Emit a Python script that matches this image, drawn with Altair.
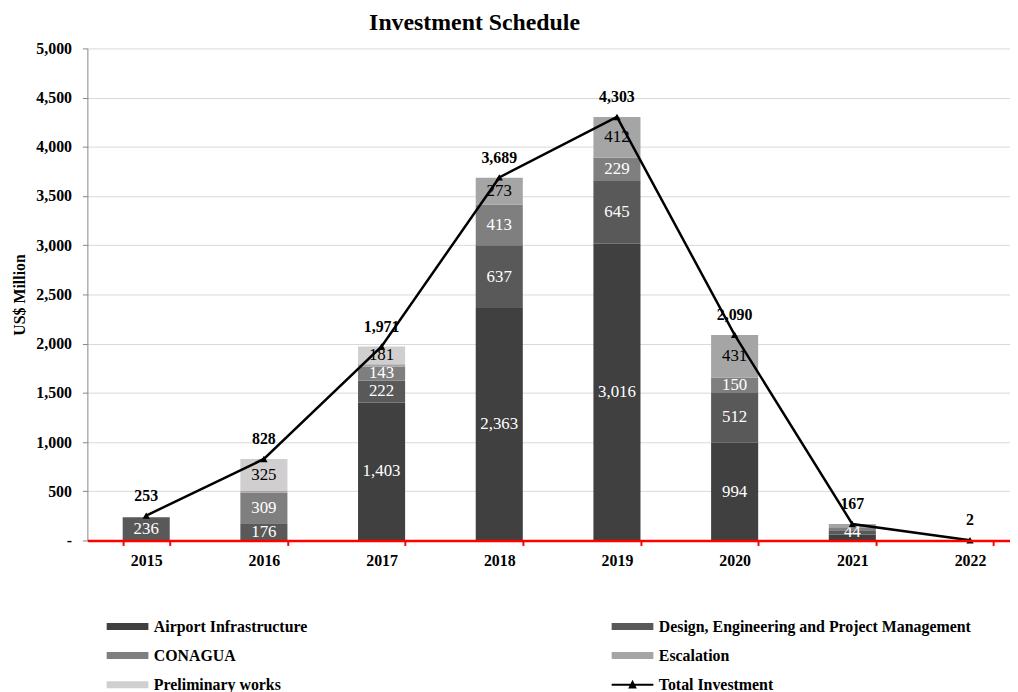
import altair as alt
import pandas as pd

FONT = "Liberation Serif"

years = ["2015", "2016", "2017", "2018", "2019", "2020", "2021", "2022"]
series_names = [
    "Airport Infrastructure",
    "Design, Engineering and Project Management",
    "CONAGUA",
    "Escalation",
    "Preliminary works",
]
airport = [0, 0, 1403, 2363, 3016, 994, 60, 0]
design = [236, 176, 222, 637, 645, 512, 44, 0]
conagua = [0, 309, 143, 413, 229, 150, 30, 0]
escalation = [0, 18, 22, 273, 412, 431, 33, 2]
preliminary = [0, 325, 181, 0, 0, 0, 0, 0]
total = [253, 828, 1971, 3689, 4303, 2090, 167, 2]
total_name = "Total Investment"

# small segments that still carry a value label in the reference
small_labelled = [("2021", "Design, Engineering and Project Management")]

series_colors = ["#404040", "#595959", "#7f7f7f", "#a5a5a5", "#d0cece"]

series_values = [airport, design, conagua, escalation, preliminary]
rows = []
for order, (name, vals) in enumerate(zip(series_names, series_values)):
    for yr, v in zip(years, vals):
        show = v >= 100 or (yr, name) in small_labelled
        rows.append({"year": yr, "series": name, "value": v, "order": order, "show": show})
df = pd.DataFrame(rows)
df_total = pd.DataFrame({"year": years, "total": total})

legend_names = series_names + [total_name]
legend_df = pd.DataFrame({"series": legend_names, "year": years[0], "v0": 0})

rect_path = "M-1.45,-0.24H1.45V0.24H-1.45Z"
line_tri_path = "M-1.45,-0.07H1.45V0.07H-1.45Z M-0.3,0.25L0,-0.35L0.3,0.25Z"

color_scale = alt.Scale(domain=legend_names, range=series_colors + ["black"])
shape_scale = alt.Scale(domain=legend_names, range=[rect_path] * 5 + [line_tri_path])

legend = alt.Legend(
    title=None,
    orient="none",
    direction="horizontal",
    legendX=26,
    legendY=568,
    columns=2,
    columnPadding=306,
    rowPadding=6.5,
    symbolSize=841,
    symbolOpacity=1,
    symbolStrokeWidth=0,
    labelFont=FONT,
    labelFontSize=16,
    labelFontWeight="bold",
    labelColor="black",
    labelLimit=500,
    labelOffset=12,
)

y_scale = alt.Scale(domain=[0, 5000], nice=False)
y_axis = alt.Axis(
    title="US$ Million",
    values=list(range(0, 5001, 500)),
    labelExpr="datum.value == 0 ? '-' : format(datum.value, ',')",
    grid=True,
    gridColor="#d9d9d9",
    gridWidth=1,
    domainColor="#868686",
    tickColor="#868686",
    tickSize=5,
    labelPadding=11,
    labelFont=FONT,
    labelFontSize=16,
    labelFontWeight="bold",
    labelColor="black",
    titleFont=FONT,
    titleFontSize=16,
    titleFontWeight="bold",
    titleColor="black",
    titlePadding=8,
)
x_scale = alt.Scale(domain=years, paddingInner=0.6, paddingOuter=0.3, range=[0, 949])
x_axis = alt.Axis(
    title=None,
    labelAngle=0,
    domainColor="red",
    domainWidth=2.5,
    tickColor="red",
    tickWidth=2,
    tickSize=5,
    tickBand="extent",
    labelFont=FONT,
    labelFontSize=16,
    labelFontWeight="bold",
    labelColor="black",
    labelPadding=7,
    grid=False,
    zindex=1,
)

X = alt.X("year:N", scale=x_scale, axis=x_axis)

base = (
    alt.Chart(df)
    .transform_stack(
        stack="value",
        groupby=["year"],
        as_=["v0", "v1"],
        sort=[alt.SortField("order", order="ascending")],
    )
    .transform_calculate(mid="(datum.v0 + datum.v1) / 2")
)

bars = base.mark_bar().encode(
    x=X,
    y=alt.Y("v0:Q", scale=y_scale, axis=y_axis),
    y2="v1:Q",
    color=alt.Color("series:N", scale=color_scale, legend=legend),
)

seg_labels = (
    base.transform_filter("datum.show")
    .mark_text(font=FONT, fontSize=17, baseline="middle")
    .encode(
        x=X,
        y=alt.Y("mid:Q", scale=y_scale, axis=y_axis),
        text=alt.Text("value:Q", format=","),
        color=alt.condition(
            "datum.series == 'Escalation' || datum.series == 'Preliminary works'",
            alt.value("black"),
            alt.value("white"),
        ),
    )
)

legend_helper = (
    alt.Chart(legend_df)
    .mark_point(filled=True, opacity=0)
    .encode(
        x=X,
        y=alt.Y("v0:Q", scale=y_scale, axis=y_axis),
        color=alt.Color("series:N", scale=color_scale, legend=legend),
        shape=alt.Shape("series:N", scale=shape_scale, legend=legend),
    )
)

tot_base = alt.Chart(df_total).encode(
    x=X, y=alt.Y("total:Q", scale=y_scale, axis=y_axis)
)
tot_line = tot_base.mark_line(color="black", strokeWidth=2.5)
tot_pts = tot_base.mark_point(shape="triangle-up", filled=True, color="black", size=55, opacity=1)
tot_text = tot_base.mark_text(
    font=FONT, fontSize=16, fontWeight="bold", color="black", baseline="middle", dy=-20
).encode(text=alt.Text("total:Q", format=","))

chart = (
    alt.layer(bars, seg_labels, tot_line, tot_pts, tot_text, legend_helper)
    .properties(
        width=930,
        height=496,
        title=alt.TitleParams(
            "Investment Schedule",
            font=FONT,
            fontSize=24,
            fontWeight="bold",
            color="black",
            anchor="start",
            frame="group",
            dx=284,
            offset=6,
        ),
        autosize=alt.AutoSizeParams(type="none"),
        padding={"left": 80, "top": 38, "right": 0, "bottom": 150},
        background="white",
    )
    .configure_view(stroke=None)
)

chart.save("out.html", embed_options={"renderer": "svg", "actions": False})
